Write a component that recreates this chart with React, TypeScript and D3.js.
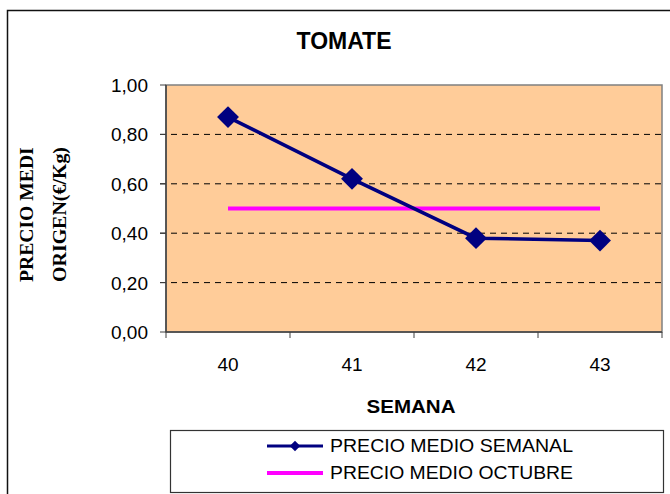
import {scaleBand, scaleLinear, line, symbol, symbolSquare, formatLocale} from "d3";

const weeks = ["40", "41", "42", "43"];
const weeklyPrice = [0.87, 0.62, 0.38, 0.37];
const octoberPrice = [0.5, 0.5, 0.5, 0.5];
const yTicks = [0, 0.2, 0.4, 0.6, 0.8, 1.0];
const seriesNames = ["PRECIO MEDIO SEMANAL", "PRECIO MEDIO OCTUBRE"];

const W = 670;
const H = 494;
const plot = {left: 166, right: 662, top: 85, bottom: 332};

const esFormat = formatLocale({decimal: ",", thousands: ".", grouping: [3], currency: ["", " €"]}).format(".2f");

export default function App() {
    const x = scaleBand<string>().domain(weeks).range([plot.left, plot.right]).padding(0);
    const y = scaleLinear().domain([0, 1]).range([plot.bottom, plot.top]);
    const cx = (w: string) => (x(w) ?? 0) + x.bandwidth() / 2;

    const lineGen = line<number>()
        .x((_, i) => cx(weeks[i]))
        .y(d => y(d));
    // diamond = square turned 45deg
    const diamond = symbol().type(symbolSquare).size(240)();
    const smallDiamond = symbol().type(symbolSquare).size(55)();

    const font = "Arial, 'Liberation Sans', sans-serif";
    const serif = "'Liberation Serif', 'Times New Roman', serif";
    const boundaries = [...weeks.map(w => x(w) ?? 0), plot.right];

    return <svg width={W} height={H} style={{position: "absolute", left: 0, top: 0}}>
        <rect x={0} y={0} width={W} height={H} fill="#fff"/>
        {/* chart frame, runs off the right and bottom edges */}
        <rect x={7.5} y={10.5} width={W + 20} height={H + 20} fill="none" stroke="#111" strokeWidth={1.5}/>

        <text x={344} y={49} textAnchor="middle" fontFamily={font} fontWeight="bold" fontSize={23}>TOMATE</text>

        {/* plot area */}
        <rect x={plot.left} y={plot.top} width={plot.right - plot.left} height={plot.bottom - plot.top}
              fill="#FFCC99" stroke="#808080" strokeWidth={1.5}/>
        {yTicks.filter(t => t > 0 && t < 1).map(t =>
            <line key={t} x1={plot.left - 6} x2={plot.right} y1={y(t)} y2={y(t)}
                  stroke="#000" strokeWidth={1} strokeDasharray="6,5"/>
        )}
        <line x1={plot.left} x2={plot.left} y1={plot.top} y2={plot.bottom} stroke="#404040" strokeWidth={1.5}/>
        <line x1={plot.left} x2={plot.right} y1={plot.bottom} y2={plot.bottom} stroke="#404040" strokeWidth={1.5}/>
        {yTicks.map(t =>
            <g key={t}>
                <line x1={plot.left - 6} x2={plot.left} y1={y(t)} y2={y(t)} stroke="#404040"/>
                <text x={148} y={y(t) + 7} textAnchor="end" fontFamily={font} fontSize={19}>{esFormat(t)}</text>
            </g>
        )}
        {boundaries.map((b, i) =>
            <line key={i} x1={b} x2={b} y1={plot.bottom} y2={plot.bottom + 6} stroke="#404040"/>
        )}
        {weeks.map(w =>
            <text key={w} x={cx(w)} y={371} textAnchor="middle" fontFamily={font} fontSize={19}>{w}</text>
        )}
        <text x={411} y={413} textAnchor="middle" fontFamily={font} fontWeight="bold" fontSize={18}
              textLength={89} lengthAdjust="spacingAndGlyphs">SEMANA</text>

        {/* y axis title, first line clipped like the original */}
        <defs>
            <clipPath id="ytitle">
                <rect x={0} y={147} width={100} height={140}/>
            </clipPath>
        </defs>
        <g clipPath="url(#ytitle)">
            <text transform="translate(33,282) rotate(-90)" fontFamily={serif} fontWeight="bold" fontSize={18}
                  textLength={150} lengthAdjust="spacingAndGlyphs">PRECIO MEDIO</text>
        </g>
        <text transform="translate(66,282) rotate(-90)" fontFamily={serif} fontWeight="bold" fontSize={19}
              textLength={135} lengthAdjust="spacingAndGlyphs">ORIGEN(€/Kg)</text>

        {/* series */}
        <path d={lineGen(octoberPrice) ?? ""} fill="none" stroke="#FF00FF" strokeWidth={4}/>
        <path d={lineGen(weeklyPrice) ?? ""} fill="none" stroke="#000080" strokeWidth={3.5}/>
        {weeklyPrice.map((v, i) =>
            <path key={i} d={diamond ?? ""} transform={`translate(${cx(weeks[i])},${y(v)}) rotate(45)`} fill="#000080"/>
        )}

        {/* legend */}
        <rect x={170.5} y={430.5} width={493} height={62} fill="#fff" stroke="#333" strokeWidth={1.2}/>
        <line x1={267} x2={323} y1={446} y2={446} stroke="#000080" strokeWidth={3}/>
        <path d={smallDiamond ?? ""} transform="translate(295,446) rotate(45)" fill="#000080"/>
        <line x1={267} x2={323} y1={473} y2={473} stroke="#FF00FF" strokeWidth={4}/>
        {seriesNames.map((s, i) =>
            <text key={s} x={330} y={452 + i * 27} fontFamily={font} fontSize={18}
                  textLength={243} lengthAdjust="spacingAndGlyphs">{s}</text>
        )}
    </svg>;
}
